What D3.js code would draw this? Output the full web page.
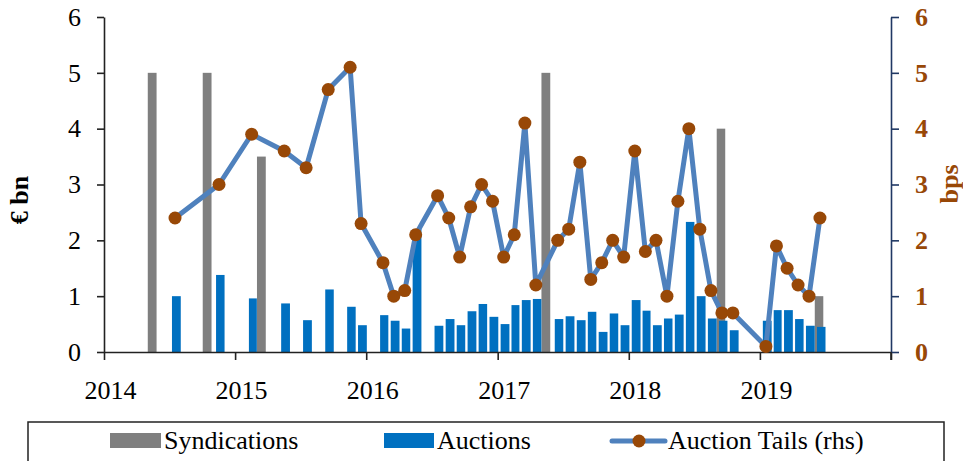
<!DOCTYPE html>
<html>
<head>
<meta charset="utf-8">
<script src="https://cdn.jsdelivr.net/npm/d3@7"></script>
<style>
  html, body { margin: 0; padding: 0; background: #fff; }
  svg { display: block; }
  text { font-family: "Liberation Serif", "Times New Roman", serif; }
</style>
</head>
<body>
<svg id="chart" width="963" height="461"></svg>
<script>
// Syndicated issuance (€ bn)
const syndMonths = ["2014-05", "2014-10", "2015-03", "2017-05", "2018-09", "2019-06"];
const syndValues = [5, 5, 3.5, 5, 4, 1];

// Auction issuance (€ bn) and auction tails (bps, right axis)
const auctionMonths = [
  "2014-07", "2014-11", "2015-02", "2015-05", "2015-07", "2015-09", "2015-11", "2015-12",
  "2016-02", "2016-03", "2016-04", "2016-05", "2016-07", "2016-08", "2016-09", "2016-10",
  "2016-11", "2016-12", "2017-01", "2017-02", "2017-03", "2017-04", "2017-06", "2017-07",
  "2017-08", "2017-09", "2017-10", "2017-11", "2017-12", "2018-01", "2018-02", "2018-03",
  "2018-04", "2018-05", "2018-06", "2018-07", "2018-08", "2018-09", "2018-10", "2019-01",
  "2019-02", "2019-03", "2019-04", "2019-05", "2019-06"
];
const auctionValues = [
  1.0, 1.38, 0.96, 0.87, 0.57, 1.12, 0.81, 0.48,
  0.66, 0.56, 0.42, 2.2, 0.47, 0.59, 0.48, 0.73,
  0.86, 0.63, 0.50, 0.84, 0.93, 0.95, 0.59, 0.64,
  0.57, 0.72, 0.36, 0.69, 0.48, 0.93, 0.74, 0.48,
  0.60, 0.67, 2.33, 1.0, 0.60, 0.56, 0.39, 0.56,
  0.75, 0.75, 0.59, 0.47, 0.45
];
const tailValues = [
  2.4, 3.0, 3.9, 3.6, 3.3, 4.7, 5.1, 2.3,
  1.6, 1.0, 1.1, 2.1, 2.8, 2.4, 1.7, 2.6,
  3.0, 2.7, 1.7, 2.1, 4.1, 1.2, 2.0, 2.2,
  3.4, 1.3, 1.6, 2.0, 1.7, 3.6, 1.8, 2.0,
  1.0, 2.7, 4.0, 2.2, 1.1, 0.7, 0.7, 0.1,
  1.9, 1.5, 1.2, 1.0, 2.4
];

const yearTicks = [2014, 2015, 2016, 2017, 2018, 2019, 2020];
const yTicks = [0, 1, 2, 3, 4, 5, 6];
const legendLabels = ["Syndications", "Auctions", "Auction Tails (rhs)"];

const colors = {
  synd: "#7f7f7f",
  auction: "#0070c0",
  line: "#4f81bd",
  marker: "#984807",
  rightAxis: "#203864"
};

const svg = d3.select("#chart");
const parseMonth = d3.timeParse("%Y-%m");

const plot = { left: 104, right: 891, top: 17, bottom: 352 };

const x = d3.scaleTime()
  .domain([new Date(2014, 0, 1), new Date(2020, 0, 1)])
  .range([plot.left, plot.right]);
const yL = d3.scaleLinear().domain([0, 6]).range([plot.bottom, plot.top]);
const yR = d3.scaleLinear().domain([0, 6]).range([plot.bottom, plot.top]);

// position inside a month slot, as a fraction of that month's width
function slot(monthStr) {
  const start = parseMonth(monthStr);
  const end = d3.timeMonth.offset(start, 1);
  const x0 = x(start), w = x(end) - x0;
  return { x0, w };
}
const barFrac = 0.79;

// Syndication bars
svg.append("g").selectAll("rect")
  .data(syndMonths.map((m, i) => ({ m, v: syndValues[i] })))
  .join("rect")
  .attr("x", d => { const s = slot(d.m); return s.x0 + s.w * 0.455 - s.w * barFrac / 2; })
  .attr("width", d => slot(d.m).w * barFrac)
  .attr("y", d => yL(d.v))
  .attr("height", d => yL(0) - yL(d.v))
  .attr("fill", colors.synd);

// Auction bars
svg.append("g").selectAll("rect")
  .data(auctionMonths.map((m, i) => ({ m, v: auctionValues[i] })))
  .join("rect")
  .attr("x", d => { const s = slot(d.m); return s.x0 + s.w * 0.66 - s.w * barFrac / 2; })
  .attr("width", d => slot(d.m).w * barFrac)
  .attr("y", d => yL(d.v))
  .attr("height", d => yL(0) - yL(d.v))
  .attr("fill", colors.auction);

// Axes
const xAxis = d3.axisBottom(x)
  .tickValues(yearTicks.map(yr => new Date(yr, 0, 1)))
  .tickSize(8)
  .tickSizeOuter(0)
  .tickPadding(21)
  .tickFormat(d => d.getFullYear() < 2020 ? String(d.getFullYear()) : "");
const gx = svg.append("g")
  .attr("transform", `translate(0,${plot.bottom})`)
  .call(xAxis);
gx.select(".domain").attr("stroke", "#222").attr("stroke-width", 1.6);
gx.selectAll(".tick line").attr("stroke", "#222").attr("stroke-width", 1.6);
gx.selectAll(".tick text")
  .attr("font-size", 26)
  .attr("fill", "#000")
  .attr("dx", 6)
  .style("font-family", "Liberation Serif, serif");

const gl = svg.append("g")
  .attr("transform", `translate(${plot.left},0)`)
  .call(d3.axisLeft(yL).tickValues(yTicks).tickFormat(d3.format("d"))
    .tickSize(7).tickSizeOuter(0).tickPadding(16));
gl.select(".domain").attr("stroke", "#222").attr("stroke-width", 1.6);
gl.selectAll(".tick line").attr("stroke", "#222").attr("stroke-width", 1.6);
gl.selectAll(".tick text")
  .attr("font-size", 26)
  .attr("fill", "#000")
  .style("font-family", "Liberation Serif, serif");

const gr = svg.append("g")
  .attr("transform", `translate(${plot.right},0)`)
  .call(d3.axisRight(yR).tickValues(yTicks).tickFormat(d3.format("d"))
    .tickSize(8).tickSizeOuter(0).tickPadding(16));
gr.select(".domain").attr("stroke", colors.rightAxis).attr("stroke-width", 1.6);
gr.selectAll(".tick line").attr("stroke", colors.rightAxis).attr("stroke-width", 1.6);
gr.selectAll(".tick text")
  .attr("font-size", 26)
  .attr("font-weight", "bold")
  .attr("fill", colors.marker)
  .style("font-family", "Liberation Serif, serif");

// Short stub below the right axis, continuing the category axis tick at 2020
svg.append("line")
  .attr("x1", plot.right).attr("x2", plot.right)
  .attr("y1", plot.bottom).attr("y2", plot.bottom + 8)
  .attr("stroke", "#222").attr("stroke-width", 1.6);

// Axis titles
svg.append("text")
  .attr("transform", `translate(28,200) rotate(-90)`)
  .attr("text-anchor", "middle")
  .attr("font-size", 26)
  .attr("font-weight", "bold")
  .attr("fill", "#000")
  .text("€ bn");
svg.append("text")
  .attr("transform", `translate(958,184) rotate(-90)`)
  .attr("text-anchor", "middle")
  .attr("font-size", 26)
  .attr("font-weight", "bold")
  .attr("fill", colors.marker)
  .text("bps");

// Auction tails line + markers
const tailPts = auctionMonths.map((m, i) => {
  const s = slot(m);
  return { px: s.x0 + s.w * 0.54, v: tailValues[i] };
});
svg.append("path")
  .datum(tailPts)
  .attr("fill", "none")
  .attr("stroke", colors.line)
  .attr("stroke-width", 5)
  .attr("stroke-linejoin", "round")
  .attr("d", d3.line().x(d => d.px).y(d => yR(d.v)));
svg.append("g").selectAll("circle")
  .data(tailPts)
  .join("circle")
  .attr("cx", d => d.px)
  .attr("cy", d => yR(d.v))
  .attr("r", 6.5)
  .attr("fill", colors.marker);

// Legend
const lg = svg.append("g");
lg.append("rect")
  .attr("x", 28).attr("y", 422)
  .attr("width", 916).attr("height", 60)
  .attr("fill", "#fff")
  .attr("stroke", "#222").attr("stroke-width", 1.5);
lg.append("rect").attr("x", 110).attr("y", 433).attr("width", 51).attr("height", 15).attr("fill", colors.synd);
lg.append("rect").attr("x", 384).attr("y", 433).attr("width", 50).attr("height", 15).attr("fill", colors.auction);
lg.append("line").attr("x1", 612).attr("x2", 665).attr("y1", 441).attr("y2", 441)
  .attr("stroke", colors.line).attr("stroke-width", 5).attr("stroke-linecap", "round");
lg.append("circle").attr("cx", 639).attr("cy", 441).attr("r", 6.5).attr("fill", colors.marker);
const legendX = [164, 437, 668];
lg.selectAll("text.lbl")
  .data(legendLabels)
  .join("text")
  .attr("class", "lbl")
  .attr("x", (d, i) => legendX[i])
  .attr("y", 449)
  .attr("font-size", 26)
  .attr("fill", "#000")
  .text(d => d);
</script>
</body>
</html>
